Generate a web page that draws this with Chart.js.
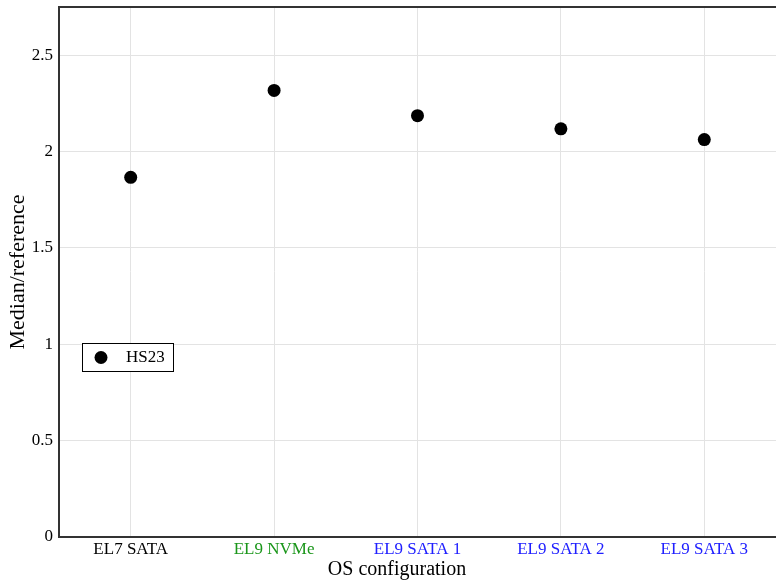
<!DOCTYPE html>
<html>
<head>
<meta charset="utf-8">
<script src="https://cdn.jsdelivr.net/npm/chart.js@4/dist/chart.umd.min.js"></script>
<style>
  html, body { margin: 0; padding: 0; background: #fff; }
  #wrap { width: 776px; height: 582px; position: relative; }
</style>
</head>
<body>
<div id="wrap"><canvas id="scatter" width="776" height="582"></canvas></div>
<script>
var configs = ['EL7 SATA', 'EL9 NVMe', 'EL9 SATA 1', 'EL9 SATA 2', 'EL9 SATA 3'];
var labelColors = ['#000000', '#1a961a', '#2020ff', '#2020ff', '#2020ff'];
var hs23 = [1.866, 2.317, 2.186, 2.118, 2.062];
var yTicks = [0, 0.5, 1, 1.5, 2, 2.5];
var seriesName = 'HS23';
var xTitle = 'OS configuration';

var serif = '"Liberation Serif", "Times New Roman", serif';

// top frame line, x title and legend box inside the plot
var framePlugin = {
	id: 'frame',
	afterDraw: function(chart) {
		var ctx = chart.ctx;
		var a = chart.chartArea;
		ctx.save();
		ctx.strokeStyle = '#333';
		ctx.lineWidth = 2;
		ctx.beginPath();
		ctx.moveTo(a.left - 1, a.top);
		ctx.lineTo(a.right, a.top);
		ctx.stroke();

		ctx.fillStyle = '#000';
		ctx.font = '20px ' + serif;
		ctx.textAlign = 'center';
		ctx.textBaseline = 'middle';
		ctx.fillText(xTitle, 397, 570);

		var bx = 82.5, by = 343.5, bw = 91, bh = 28;
		ctx.fillStyle = '#fff';
		ctx.fillRect(bx, by, bw, bh);
		ctx.strokeStyle = '#000';
		ctx.lineWidth = 1;
		ctx.strokeRect(bx, by, bw, bh);
		ctx.fillStyle = '#000';
		ctx.beginPath();
		ctx.arc(101, 357.5, 6.5, 0, Math.PI * 2);
		ctx.fill();
		ctx.font = '17px ' + serif;
		ctx.textAlign = 'left';
		ctx.fillText(seriesName, 126, 358);
		ctx.restore();
	}
};

var ctx = document.getElementById('scatter');
new Chart(ctx, {
	type: 'line',
	data: {
		labels: configs,
		datasets: [{
			label: seriesName,
			data: hs23,
			showLine: false,
			pointRadius: 6.5,
			pointHoverRadius: 6.5,
			pointBackgroundColor: '#000',
			pointBorderColor: '#000',
			pointBorderWidth: 0
		}]
	},
	options: {
		responsive: false,
		animation: false,
		layout: { autoPadding: false, padding: { top: 7, right: 0, left: 1, bottom: 0 } },
		plugins: {
			legend: { display: false },
			tooltip: { enabled: false }
		},
		scales: {
			x: {
				offset: true,
				grid: { color: '#e3e3e3', offset: false, drawTicks: false },
				border: { color: '#333', width: 2 },
				ticks: {
					padding: 2,
					autoSkip: false,
					maxRotation: 0,
					font: { family: serif, size: 17 },
					color: function(c) { return labelColors[c.index]; }
				},
				afterFit: function(scale) {
					scale.height = 45;
					scale.paddingLeft = 0;
					scale.paddingRight = 0;
				}
			},
			y: {
				min: 0,
				max: 2.75,
				afterBuildTicks: function(scale) {
					scale.ticks = yTicks.map(function(v) { return { value: v }; });
				},
				grid: { color: '#e3e3e3', drawTicks: false },
				border: { color: '#333', width: 2 },
				ticks: {
					padding: 6,
					font: { family: serif, size: 17 },
					color: '#000',
					callback: function(v) { return String(v); }
				},
				title: {
					display: true,
					text: 'Median/reference',
					font: { family: serif, size: 22 },
					color: '#000',
					padding: { top: 4, bottom: 0 }
				},
				afterFit: function(scale) {
					scale.width = 58;
					scale.paddingTop = 0;
					scale.paddingBottom = 0;
				}
			}
		}
	},
	plugins: [framePlugin]
});
</script>
</body>
</html>
